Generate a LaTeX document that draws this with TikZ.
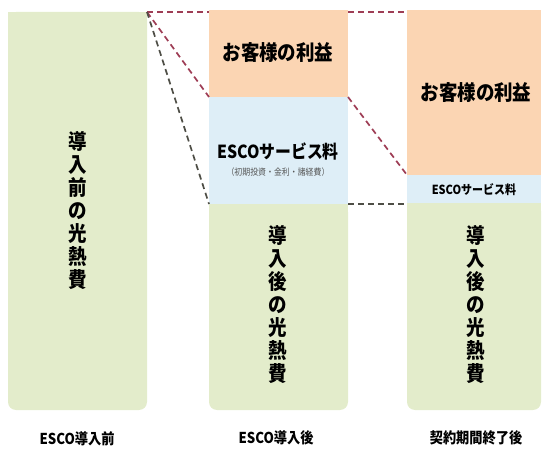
\documentclass[tikz,border=0pt]{standalone}
\usepackage{fontspec}
\newfontfamily\jp[FakeStretch=0.88]{Noto Sans CJK JP}
\definecolor{colgreen}{HTML}{E3ECCB}
\definecolor{colorange}{HTML}{FBD5B3}
\definecolor{colblue}{HTML}{DEEEF7}
\definecolor{dashred}{HTML}{9E3D55}
\definecolor{dashgray}{HTML}{4E4E46}
\definecolor{subgray}{HTML}{555555}
\tikzset{
  lab/.style={inner sep=0pt, text=black},
  vert/.style={lab, align=center, font=\jp\bfseries\fontsize{21}{23}\selectfont},
  big/.style={lab, font=\jp\bfseries\fontsize{21}{24}\selectfont},
  bottomlab/.style={lab, font=\jp\bfseries\fontsize{15}{18}\selectfont},
  reddash/.style={draw=dashred, line width=1.7pt, dash pattern=on 6pt off 4pt},
  graydash/.style={draw=dashgray, line width=1.7pt, dash pattern=on 6pt off 4pt}
}
\begin{document}
\begin{tikzpicture}[x=1pt,y=-1pt]
\useasboundingbox (0,0) rectangle (542,452);
% left column
\fill[colgreen, rounded corners=8pt] (8,12) rectangle (147,410);
\fill[colgreen] (8,12) rectangle (147,300);
% middle column
\fill[colgreen, rounded corners=8pt] (209,204) rectangle (348,410);
\fill[colgreen] (209,204) rectangle (348,300);
\fill[colblue] (209,97) rectangle (348,204);
\fill[colorange] (209,10) rectangle (348,97);
% right column
\fill[colgreen, rounded corners=8pt] (407,203) rectangle (541,410);
\fill[colgreen] (407,203) rectangle (541,300);
\fill[colblue] (407,175) rectangle (541,203);
\fill[colorange] (407,10) rectangle (541,175);

% coordinates for connectors
\coordinate (Ltop) at (147,12);
\coordinate (Mtopl) at (209,12);
\coordinate (Mtopr) at (348,12);
\coordinate (Rtop) at (407,12);
\coordinate (Mobl) at (209,97);
\coordinate (Mobr) at (348,97);
\coordinate (Mbgl) at (209,204);
\coordinate (Mbgr) at (348,204);
\coordinate (Rob) at (407,175);
\coordinate (Rbg) at (407,204);

\draw[reddash] (Ltop) -- (Mtopl);
\draw[reddash] (Mtopr) -- (Rtop);
\draw[reddash] (Ltop) -- (Mobl);
\draw[graydash] (Ltop) -- (Mbgl);
\draw[reddash] (Mobr) -- (Rob);
\draw[graydash] (Mbgr) -- (Rbg);

% texts
\node[vert] (t1) at (78,211) {導\\入\\前\\の\\光\\熱\\費};
\node[big] (t2) at (278,53) {お客様の利益};
\node[lab, font=\jp\bfseries\fontsize{18}{20}\selectfont] (t3) at (278,151) {ESCOサービス料};
\node[lab, text=subgray, font=\jp\fontsize{9}{10}\selectfont] (t4) at (278,172) {（初期投資・金利・諸経費）};
\node[vert] (t5) at (278,305) {導\\入\\後\\の\\光\\熱\\費};
\node[big] (t6) at (476,93) {お客様の利益};
\node[lab, font=\jp\bfseries\fontsize{12.5}{14}\selectfont] (t7) at (474,190) {ESCOサービス料};
\node[vert] (t8) at (476,305) {導\\入\\後\\の\\光\\熱\\費};
\node[bottomlab] (b1) at (77,439) {ESCO導入前};
\node[bottomlab] (b2) at (276,438) {ESCO導入後};
\node[bottomlab] (b3) at (476,438) {契約期間終了後};
\end{tikzpicture}
\end{document}
